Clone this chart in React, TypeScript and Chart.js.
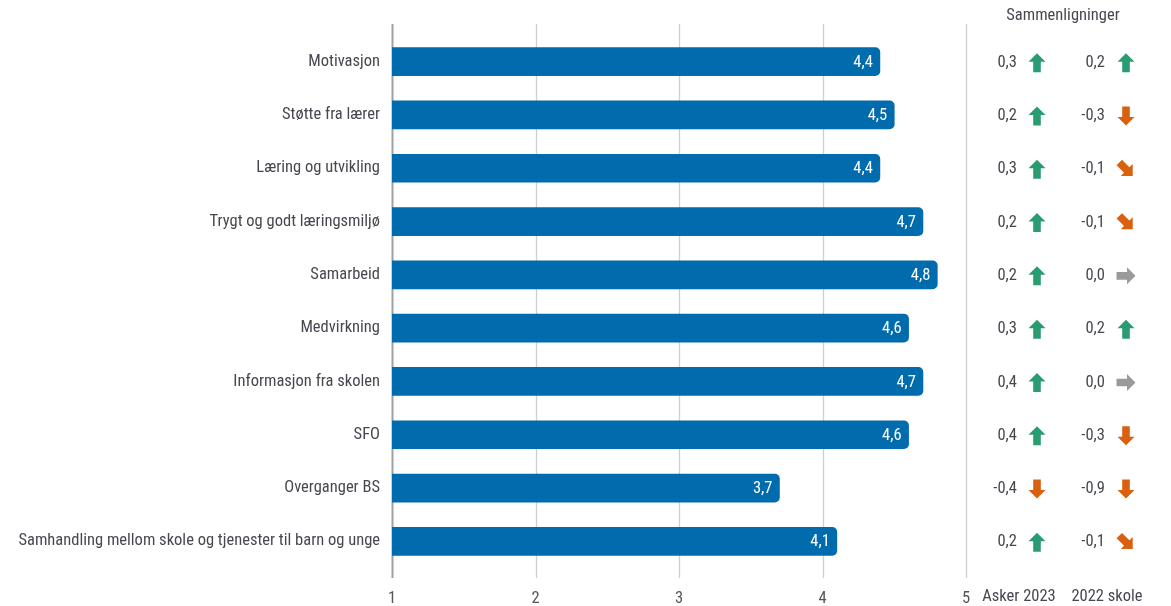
import React, { useEffect, useRef } from "react";
import { Chart, registerables } from "chart.js";

Chart.register(...registerables);

const categories = [
  "Motivasjon",
  "Støtte fra lærer",
  "Læring og utvikling",
  "Trygt og godt læringsmiljø",
  "Samarbeid",
  "Medvirkning",
  "Informasjon fra skolen",
  "SFO",
  "Overganger BS",
  "Samhandling mellom skole og tjenester til barn og unge",
];
const scores = [4.4, 4.5, 4.4, 4.7, 4.8, 4.6, 4.7, 4.6, 3.7, 4.1];
const askerDiff = [0.3, 0.2, 0.3, 0.2, 0.2, 0.3, 0.4, 0.4, -0.4, 0.2];
const askerTrend = ["up", "up", "up", "up", "up", "up", "up", "up", "down", "up"];
const schoolDiff = [0.2, -0.3, -0.1, -0.1, 0.0, 0.2, 0.0, -0.3, -0.9, -0.1];
const schoolTrend = ["up", "down", "diag", "diag", "flat", "up", "flat", "down", "down", "diag"];
const xTicks = [1, 2, 3, 4, 5];
const headerLabel = "Sammenligninger";
const columnLabels = ["Asker 2023", "2022 skole"];

const FONT = "'Liberation Sans Narrow', 'Roboto Condensed', Roboto, sans-serif";
const FS = 16.5;
const BAR = "#006bad";
const GREEN = "#2a9c72";
const ORANGE = "#d9600f";
const GREY = "#9a9a9a";
const TEXT = "#474750";
const fmt = (v: number) => v.toFixed(1).replace(".", ",");

function drawArrow(ctx: CanvasRenderingContext2D, cx: number, cy: number, dir: string) {
  const color = dir === "up" ? GREEN : dir === "flat" ? GREY : ORANGE;
  const angle = dir === "up" ? 0 : dir === "flat" ? Math.PI / 2 : dir === "down" ? Math.PI : (3 * Math.PI) / 4;
  ctx.save();
  ctx.translate(cx, cy);
  ctx.rotate(angle);
  ctx.fillStyle = color;
  ctx.beginPath();
  ctx.moveTo(0, -9.5);
  ctx.lineTo(8.5, -1);
  ctx.lineTo(3.8, -1);
  ctx.lineTo(3.8, 9.5);
  ctx.lineTo(-3.8, 9.5);
  ctx.lineTo(-3.8, -1);
  ctx.lineTo(-8.5, -1);
  ctx.closePath();
  ctx.fill();
  ctx.restore();
}

const overlay = {
  id: "overlay",
  beforeDatasetsDraw(chart: any) {
    const { ctx, chartArea } = chart;
    const x = chart.scales.x;
    ctx.save();
    xTicks.forEach((t) => {
      const px = Math.round(x.getPixelForValue(t)) + 0.5;
      ctx.strokeStyle = t === 1 ? "#a0a0a0" : "#cfcfcf";
      ctx.lineWidth = t === 1 ? 2 : 1.3;
      ctx.beginPath();
      ctx.moveTo(px, chartArea.top - 11);
      ctx.lineTo(px, chartArea.bottom + 10);
      ctx.stroke();
    });
    ctx.restore();
  },
  afterDatasetsDraw(chart: any) {
    const { ctx } = chart;
    const y = chart.scales.y;
    const meta = chart.getDatasetMeta(0);
    ctx.save();
    ctx.font = `${FS}px ${FONT}`;
    ctx.textBaseline = "middle";
    meta.data.forEach((bar: any, i: number) => {
      ctx.fillStyle = "#ffffff";
      ctx.textAlign = "right";
      ctx.fillText(fmt(scores[i]), bar.x - 7, bar.y + 1);
    });
    categories.forEach((_, i) => {
      const cy = y.getPixelForValue(i);
      ctx.fillStyle = TEXT;
      ctx.textAlign = "right";
      ctx.fillText(fmt(askerDiff[i]), 1017, cy + 1);
      ctx.fillText(fmt(schoolDiff[i]), 1105, cy + 1);
      drawArrow(ctx, 1037, cy + 1, askerTrend[i]);
      drawArrow(ctx, 1126, cy + 1, schoolTrend[i]);
    });
    ctx.textAlign = "center";
    ctx.fillStyle = TEXT;
    ctx.fillText(headerLabel, 1063, 16);
    ctx.fillText(columnLabels[0], 1019, 597);
    ctx.fillText(columnLabels[1], 1107, 597);
    ctx.restore();
  },
};

export default function App() {
  const ref = useRef<HTMLCanvasElement>(null);
  useEffect(() => {
    const chart = new Chart(ref.current!, {
      type: "bar",
      data: {
        labels: categories,
        datasets: [
          {
            data: scores,
            backgroundColor: BAR,
            borderRadius: { topLeft: 0, bottomLeft: 0, topRight: 5, bottomRight: 5 },
            borderSkipped: false,
            barThickness: 28,
          },
        ],
      },
      options: {
        indexAxis: "y",
        animation: false,
        responsive: true,
        maintainAspectRatio: false,
        layout: { padding: { top: 35, right: 205, left: 0, bottom: 0 } },
        plugins: { legend: { display: false }, tooltip: { enabled: false } },
        scales: {
          x: {
            min: 1,
            max: 5,
            grid: { display: false },
            border: { display: false },
            afterFit: (s: any) => {
              s.height = 38;
            },
            afterBuildTicks: (s: any) => {
              s.ticks = xTicks.map((v) => ({ value: v }));
            },
            ticks: {
              color: "#555",
              font: { family: FONT, size: FS },
              padding: 13,
              callback: (v: any) => String(v),
            },
          },
          y: {
            grid: { display: false },
            border: { display: false },
            afterFit: (s: any) => {
              s.width = 392;
            },
            ticks: {
              color: TEXT,
              font: { family: FONT, size: FS },
              padding: 4,
            },
          },
        },
      },
      plugins: [overlay],
    });
    return () => chart.destroy();
  }, []);
  return (
    <div style={{ position: "fixed", left: 0, top: 0, width: 1171, height: 606, background: "#fff" }}>
      <canvas ref={ref} />
    </div>
  );
}
